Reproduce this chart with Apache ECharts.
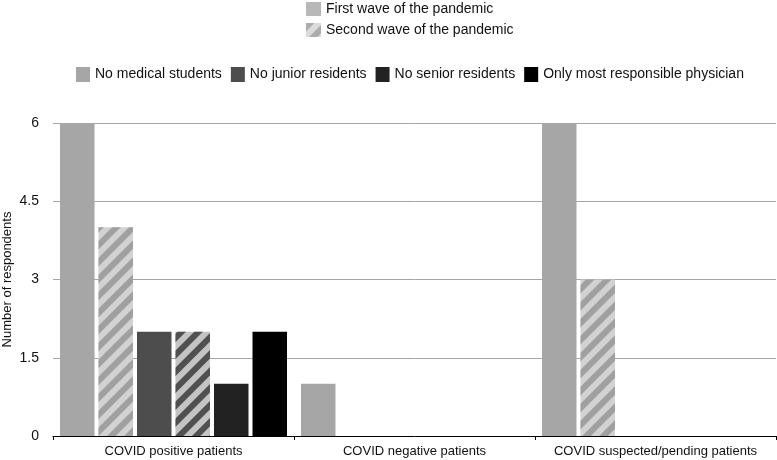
<!DOCTYPE html>
<html>
<head>
<meta charset="utf-8">
<script src="https://cdn.jsdelivr.net/npm/echarts@6/dist/echarts.min.js"></script>
<style>
html,body{margin:0;padding:0;background:#fff;}
#chart{width:777px;height:460px;}
</style>
</head>
<body>
<div id="chart"></div>
<script>
const categories = ['COVID positive patients', 'COVID negative patients', 'COVID suspected/pending patients'];
const noMedicalStudentsFirst = [6, 1, 6];
const noMedicalStudentsSecond = [4, 0, 3];
const noJuniorResidentsFirst = [2, 0, 0];
const noJuniorResidentsSecond = [2, 0, 0];
const noSeniorResidentsFirst = [1, 0, 0];
const onlyMrpFirst = [2, 0, 0];
const yTicks = [0, 1.5, 3, 4.5, 6];
const waveLegend = ['First wave of the pandemic', 'Second wave of the pandemic'];
const roleLegend = ['No medical students', 'No junior residents', 'No senior residents', 'Only most responsible physician'];

const FONT = '"Liberation Sans", Arial, Helvetica, sans-serif';
function stripes(color) {
  return { symbol: 'rect', symbolSize: 1, dashArrayX: [1, 0], dashArrayY: [6, 6], rotation: -Math.PI / 4, color: color };
}
const chart = echarts.init(document.getElementById('chart'), null, { renderer: 'canvas' });
const barCommon = { type: 'bar', barWidth: 34.5, barGap: '11.6%' };
chart.setOption({
  animation: false,
  textStyle: { fontFamily: FONT },
  legend: [
    {
      orient: 'vertical', left: 306, top: 2, padding: 0,
      itemWidth: 15, itemHeight: 14, itemGap: 7,
      icon: 'rect',
      textStyle: { fontFamily: FONT, fontSize: 14, color: '#111' },
      data: [
        { name: waveLegend[0], itemStyle: { color: '#a6a6a6' } },
        { name: waveLegend[1], itemStyle: { color: '#d2d2d2', decal: stripes('#a0a0a0') } }
      ]
    },
    {
      orient: 'horizontal', left: 76, top: 67, padding: 0,
      itemWidth: 14, itemHeight: 15, itemGap: 9,
      icon: 'rect',
      textStyle: { fontFamily: FONT, fontSize: 14, color: '#111' },
      data: roleLegend
    }
  ],
  grid: { left: 53, right: 1, top: 123, bottom: 24, containLabel: false, outerBoundsMode: 'none' },
  xAxis: {
    type: 'category',
    data: categories,
    axisLine: { lineStyle: { color: '#000', width: 1 } },
    axisTick: { show: true, length: 4, lineStyle: { color: '#000' } },
    axisLabel: { fontFamily: FONT, fontSize: 13, color: '#111', margin: 9, interval: 0, hideOverlap: false }
  },
  yAxis: {
    type: 'value',
    min: yTicks[0], max: yTicks[yTicks.length - 1], interval: yTicks[1] - yTicks[0],
    name: 'Number of respondents',
    nameLocation: 'middle', nameGap: 39, nameMoveOverlap: false,
    nameTextStyle: { fontFamily: FONT, fontSize: 13, color: '#111' },
    axisLine: { show: false },
    axisTick: { show: false },
    axisLabel: { fontFamily: FONT, fontSize: 14, color: '#111', margin: 14 },
    splitLine: { lineStyle: { color: '#a6a6a6', width: 1 } }
  },
  series: [
    Object.assign({}, barCommon, { name: roleLegend[0], data: noMedicalStudentsFirst, itemStyle: { color: '#a6a6a6' } }),
    Object.assign({}, barCommon, { name: 'No medical students (second wave)', data: noMedicalStudentsSecond, itemStyle: { color: '#d2d2d2', decal: stripes('#a0a0a0') } }),
    Object.assign({}, barCommon, { name: roleLegend[1], data: noJuniorResidentsFirst, itemStyle: { color: '#4d4d4d' } }),
    Object.assign({}, barCommon, { name: 'No junior residents (second wave)', data: noJuniorResidentsSecond, itemStyle: { color: '#c4c4c4', decal: stripes('#505050') } }),
    Object.assign({}, barCommon, { name: roleLegend[2], data: noSeniorResidentsFirst, itemStyle: { color: '#222222' } }),
    Object.assign({}, barCommon, { name: roleLegend[3], data: onlyMrpFirst, itemStyle: { color: '#000000' } }),
    { type: 'scatter', name: waveLegend[0], data: [], itemStyle: { color: '#a6a6a6' } },
    { type: 'scatter', name: waveLegend[1], data: [], itemStyle: { color: '#d2d2d2', decal: stripes('#a0a0a0') } }
  ]
});
</script>
</body>
</html>
